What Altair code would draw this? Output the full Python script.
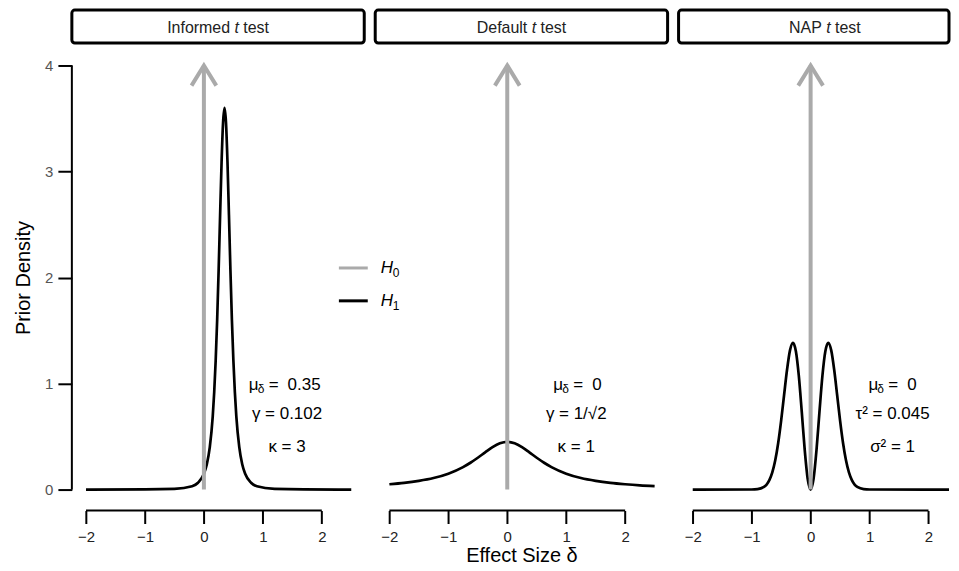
import altair as alt
import pandas as pd

# ---------------- data ----------------
panel_names = ["Informed", "Default", "NAP"]

informed_x = [-2.0, -1.0, -0.5, -0.2, -0.1, 0.0, 0.05, 0.1, 0.15, 0.175, 0.2, 0.225, 0.25, 0.275,
              0.3, 0.325, 0.35, 0.375, 0.4, 0.425, 0.45, 0.475, 0.5, 0.525, 0.55, 0.6, 0.65, 0.7,
              0.8, 0.9, 1.2, 1.7, 2.5]
informed_y = [0.0001, 0.001, 0.006, 0.031, 0.064, 0.149, 0.239, 0.40, 0.69, 0.92, 1.22, 1.60, 2.07, 2.59,
              3.09, 3.46, 3.60, 3.46, 3.09, 2.59, 2.07, 1.60, 1.22, 0.92, 0.69, 0.40, 0.239, 0.149,
              0.064, 0.031, 0.006, 0.001, 0.0002]

default_x = [-2.0, -1.75, -1.5, -1.25, -1.0, -0.75, -0.625, -0.5, -0.375, -0.25, -0.125, 0.0,
             0.125, 0.25, 0.375, 0.5, 0.625, 0.75, 1.0, 1.25, 1.5, 1.75, 2.0, 2.25, 2.5]
default_y = [0.050, 0.063, 0.082, 0.109, 0.150, 0.212, 0.253, 0.300, 0.351, 0.400, 0.436, 0.450,
             0.436, 0.400, 0.351, 0.300, 0.253, 0.212, 0.150, 0.109, 0.082, 0.063, 0.050, 0.040, 0.033]

nap_x = [-2.0, -1.0, -0.9, -0.8, -0.75, -0.7, -0.65, -0.6, -0.55, -0.5, -0.45, -0.4, -0.35, -0.3,
         -0.25, -0.2, -0.15, -0.1, -0.05, 0.0, 0.05, 0.1, 0.15, 0.2, 0.25, 0.3, 0.35, 0.4, 0.45,
         0.5, 0.55, 0.6, 0.65, 0.7, 0.75, 0.8, 0.9, 1.0, 2.0, 2.5]
nap_y = [0.0, 0.0006, 0.004, 0.022, 0.045, 0.089, 0.162, 0.276, 0.439, 0.650, 0.892, 1.130, 1.313, 1.384,
         1.305, 1.072, 0.732, 0.374, 0.102, 0.0, 0.102, 0.374, 0.732, 1.072, 1.305, 1.384, 1.313, 1.130, 0.892,
         0.650, 0.439, 0.276, 0.162, 0.089, 0.045, 0.022, 0.004, 0.0006, 0.0, 0.0]

curves_x = [informed_x, default_x, nap_x]
curves_y = [informed_y, default_y, nap_y]

# H0 point-mass arrow (at delta = 0, up to density 4)
h0_x = 0.0
h0_top = 4.0
arrow_head_x = [-0.21, 0.0, 0.21]
arrow_head_y = [3.81, 4.0, 3.81]

# annotation texts: first line (mu_delta = value), then two centred lines
mu_values = ["0.35", "0", "0"]
line2_text = ["γ = 0.102", "γ = 1/√2", "τ² = 0.045"]
line3_text = ["κ = 3", "κ = 1", "σ² = 1"]
ann_left_x = [0.76, 0.78, 0.98]
ann_center_x = [1.41, 1.17, 1.39]
ann_y = [0.99, 0.71, 0.40]

# legend (drawn in first panel's coordinates)
legend_labels_sub = ["0", "1"]
legend_colors = ["#aaaaaa", "#000000"]
legend_line_x = [2.29, 2.78]
legend_text_x = 3.0
legend_y = [2.09, 1.78]

x_ticks = [-2, -1, 0, 1, 2]
y_ticks = [0, 1, 2, 3, 4]

# ---------------- layout / style ----------------
PX_PER_UNIT = 59.07
WIDTHS = [293, 293, 271]
H = 459
XMIN = -2.24
YDOM = [-0.16, 4.16]
FONT = "Liberation Sans"
GRAY = "#aaaaaa"
t_offsets = [16.5, 10.3, 1.5]   # left edge of italic "t" relative to header centre


def xenc(title, w):
    return alt.X(
        "x:Q",
        scale=alt.Scale(domain=[XMIN, XMIN + w / PX_PER_UNIT], nice=False, zero=False),
        axis=alt.Axis(values=x_ticks, offset=4, title=title),
    )


def yenc(show):
    if show:
        ax = alt.Axis(values=y_ticks, title="Prior Density")
    else:
        ax = None
    return alt.Y("y:Q", scale=alt.Scale(domain=YDOM, nice=False, zero=False), axis=ax)


def panel(i):
    W = WIDTHS[i]
    xt = "Effect Size δ" if i == 1 else None
    X = xenc(xt, W)
    Y = yenc(i == 0)
    one = pd.DataFrame({"k": [0]})
    layers = []

    # header box
    layers.append(alt.Chart(one).mark_rect(fill="white", stroke="black", strokeWidth=3, cornerRadius=3)
                  .encode(x=alt.value(0), x2=alt.value(W), y=alt.value(-38.5), y2=alt.value(-5.5)))
    c = WIDTHS[0] / 2
    tl = t_offsets[i]
    hdr = dict(font=FONT, fontSize=16, baseline="middle", color="#222")
    layers.append(alt.Chart(one).mark_text(align="right", **hdr, text=panel_names[i])
                  .encode(x=alt.value(c + tl - 4.4), y=alt.value(-21)))
    layers.append(alt.Chart(one).mark_text(align="left", fontStyle="italic", **hdr, text="t")
                  .encode(x=alt.value(c + tl), y=alt.value(-21)))
    layers.append(alt.Chart(one).mark_text(align="left", **hdr, text="test")
                  .encode(x=alt.value(c + tl + 8.8), y=alt.value(-21)))

    # x axis line from -2 to 2
    xl = pd.DataFrame({"x": [x_ticks[0]], "x2": [x_ticks[-1]]})
    layers.append(alt.Chart(xl).mark_rule(color="black", strokeWidth=2)
                  .encode(x=X, x2="x2:Q", y=alt.value(H + 4)))

    # y axis line 0..4 (first panel only)
    if i == 0:
        yl = pd.DataFrame({"y": [y_ticks[0]], "y2": [y_ticks[-1]]})
        layers.append(alt.Chart(yl).mark_rule(color="black", strokeWidth=2)
                      .encode(x=alt.value(0), y=Y, y2="y2:Q"))

    # H1 prior curve
    cd = pd.DataFrame({"x": curves_x[i], "y": curves_y[i]})
    layers.append(alt.Chart(cd).mark_line(color="black", strokeWidth=2.7, interpolate="monotone", clip=True)
                  .encode(x=X, y=Y))

    # H0 arrow
    sd = pd.DataFrame({"x": [h0_x], "y": [0.0], "y2": [h0_top]})
    layers.append(alt.Chart(sd).mark_rule(color=GRAY, strokeWidth=4, strokeCap="butt")
                  .encode(x=X, y=Y, y2="y2:Q"))
    ad = pd.DataFrame({"x": arrow_head_x, "y": arrow_head_y, "o": [0, 1, 2]})
    layers.append(alt.Chart(ad).mark_line(color=GRAY, strokeWidth=4, strokeJoin="miter", strokeCap="butt")
                  .encode(x=X, y=Y, order="o:Q"))

    # annotations
    af = dict(font=FONT, fontSize=17, baseline="middle", color="black")
    m = pd.DataFrame({"x": [ann_left_x[i]], "y": [ann_y[0]]})
    layers.append(alt.Chart(m).mark_text(align="left", text="μ", **af).encode(x=X, y=Y))
    layers.append(alt.Chart(m).mark_text(align="left", text="δ", dx=9, dy=4, font=FONT, fontSize=12,
                                         baseline="middle", color="black").encode(x=X, y=Y))
    layers.append(alt.Chart(m).mark_text(align="left", text="=", dx=20, **af).encode(x=X, y=Y))
    layers.append(alt.Chart(m).mark_text(align="left", text=mu_values[i], dx=39, **af).encode(x=X, y=Y))
    l2 = pd.DataFrame({"x": [ann_center_x[i], ann_center_x[i]], "y": [ann_y[1], ann_y[2]],
                       "t": [line2_text[i], line3_text[i]]})
    layers.append(alt.Chart(l2).mark_text(align="center", **af).encode(x=X, y=Y, text="t:N"))

    # legend in first panel
    if i == 0:
        lg = pd.DataFrame({"x": [legend_line_x[0]] * 2, "x2": [legend_line_x[1]] * 2,
                           "y": legend_y, "c": legend_colors})
        layers.append(alt.Chart(lg).mark_rule(strokeWidth=3)
                      .encode(x=X, x2="x2:Q", y=Y, color=alt.Color("c:N", scale=None)))
        lt = pd.DataFrame({"x": [legend_text_x] * 2, "y": legend_y, "s": legend_labels_sub})
        layers.append(alt.Chart(lt).mark_text(align="left", text="H", fontStyle="italic", font=FONT,
                                              fontSize=17, baseline="middle", color="black")
                      .encode(x=X, y=Y))
        layers.append(alt.Chart(lt).mark_text(align="left", dx=12, dy=5, font=FONT, fontSize=12,
                                              baseline="middle", color="black")
                      .encode(x=X, y=Y, text="s:N"))

    return alt.layer(*layers).properties(width=W, height=H)


chart = (
    alt.hconcat(panel(0), panel(1), panel(2), spacing=11, bounds="flush")
    .properties(padding={"left": 5, "top": 0, "right": 0, "bottom": 2})
    .configure_view(stroke=None)
    .configure_axis(domain=False, grid=False, ticks=True, tickWidth=2, tickColor="black",
                    labelFont=FONT, labelFontSize=15, labelFlush=False, titleFont=FONT,
                    titleFontSize=20, titleFontWeight="normal", titleColor="black")
    .configure_axisX(tickSize=13, labelColor="#222", labelPadding=6, titlePadding=1)
    .configure_axisY(tickSize=14, labelColor="#555", labelPadding=5, titlePadding=11)
)

chart.save("out.html", embed_options={"renderer": "svg", "actions": False})
